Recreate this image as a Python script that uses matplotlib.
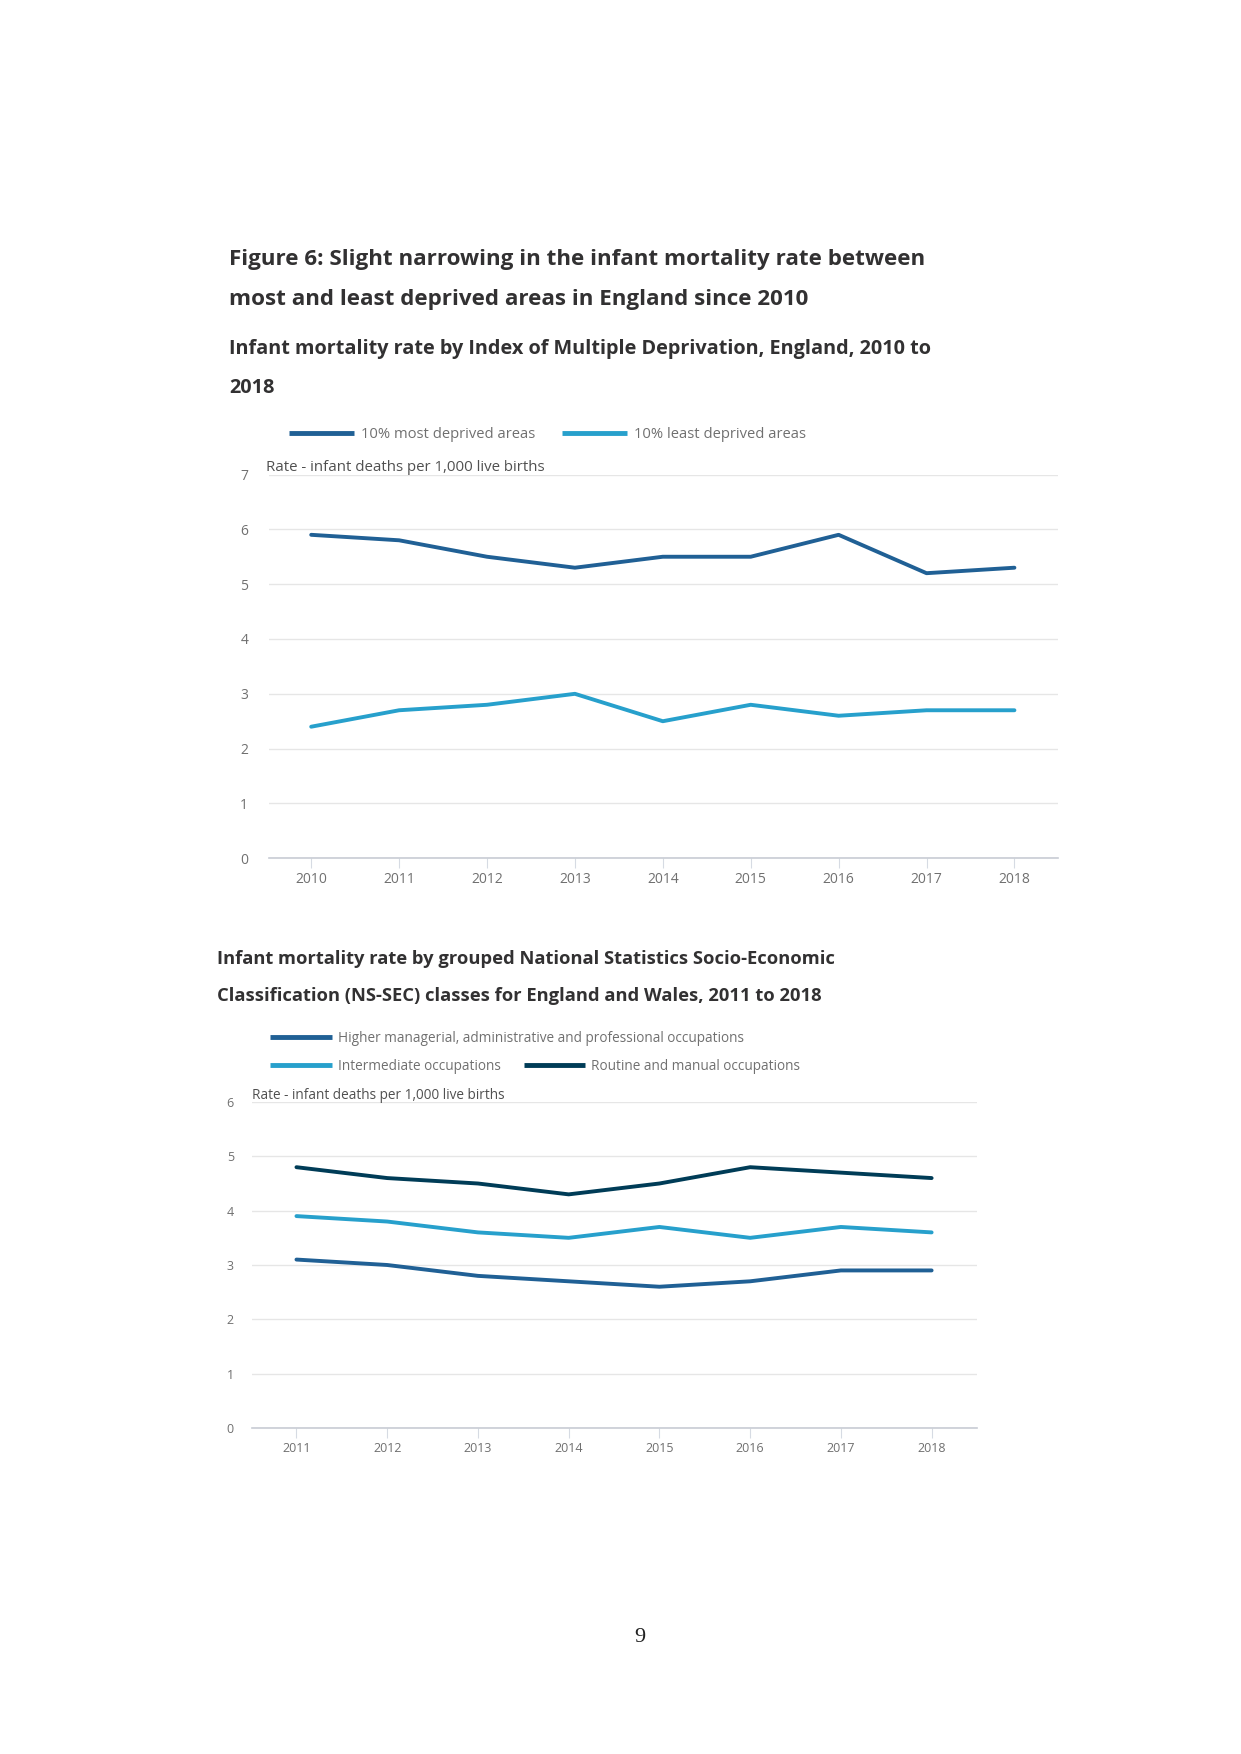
import matplotlib
matplotlib.use('Agg')
import matplotlib.pyplot as plt

W, H = 1241, 1754
mydpi = 100

# chart 1 data: IMD deciles, England
years_imd = [2010, 2011, 2012, 2013, 2014, 2015, 2016, 2017, 2018]
most_deprived = [5.9, 5.8, 5.5, 5.3, 5.5, 5.5, 5.9, 5.2, 5.3]
least_deprived = [2.4, 2.7, 2.8, 3.0, 2.5, 2.8, 2.6, 2.7, 2.7]

# chart 2 data: NS-SEC, England and Wales
years_nssec = [2011, 2012, 2013, 2014, 2015, 2016, 2017, 2018]
higher_managerial = [3.1, 3.0, 2.8, 2.7, 2.6, 2.7, 2.9, 2.9]
intermediate = [3.9, 3.8, 3.6, 3.5, 3.7, 3.5, 3.7, 3.6]
routine_manual = [4.8, 4.6, 4.5, 4.3, 4.5, 4.8, 4.7, 4.6]

DARK = '#206095'
LIGHT = '#27a0cc'
NAVY = '#003c57'
TEXT = '#323132'
GREY = '#707070'

plt.rcParams['font.family'] = ['Open Sans', 'DejaVu Sans']


def fx(px):
    return px / W


def fy(py):
    return 1 - py / H


def box(left, top, right, bottom):
    return [fx(left), fy(bottom), fx(right) - fx(left), fy(top) - fy(bottom)]


def style_axes(ax, ymax, xlim, years, fsize, ypad):
    ax.set_ylim(0, ymax)
    ax.set_xlim(*xlim)
    ax.set_yticks(range(0, ymax + 1))
    ax.set_xticks(years)
    ax.grid(axis='y', color='#e6e6e6', lw=1)
    ax.set_axisbelow(True)
    for s in ['top', 'right', 'left']:
        ax.spines[s].set_visible(False)
    ax.spines['bottom'].set_color('#c8ccd4')
    ax.spines['bottom'].set_linewidth(1.2)
    ax.tick_params(axis='y', length=0, pad=ypad, labelcolor=GREY, labelsize=fsize)
    ax.tick_params(axis='x', length=7, width=0.8, color='#d6dbe3', pad=3,
                   labelcolor=GREY, labelsize=fsize)


fig = plt.figure(figsize=(W / mydpi, H / mydpi), dpi=mydpi)

# headings
fig.text(fx(229), fy(259), 'Figure 6: Slight narrowing in the infant mortality rate between',
         fontsize=16.1, fontweight='bold', color=TEXT, va='center')
fig.text(fx(229), fy(299), 'most and least deprived areas in England since 2010',
         fontsize=16.1, fontweight='bold', color=TEXT, va='center')
fig.text(fx(229), fy(349), 'Infant mortality rate by Index of Multiple Deprivation, England, 2010 to',
         fontsize=14.3, fontweight='bold', color=TEXT, va='center')
fig.text(fx(229), fy(388), '2018',
         fontsize=14.3, fontweight='bold', color=TEXT, va='center')

# chart 1
ax1 = fig.add_axes(box(269, 474.5, 1057.5, 858.3))
l1, = ax1.plot(years_imd, most_deprived, color=DARK, lw=2.8, solid_capstyle='round')
l2, = ax1.plot(years_imd, least_deprived, color=LIGHT, lw=2.8, solid_capstyle='round')
style_axes(ax1, 7, (2009.52, 2018.49), years_imd, 10, 15)
ax1.text(-0.004, -0.002, 'Rate - infant deaths per 1,000 live births',
         transform=ax1.transAxes + matplotlib.transforms.Affine2D().translate(0, ax1.bbox.height),
         fontsize=10.8, color='#505050', va='bottom', ha='left')
leg1 = fig.legend([l1, l2], ['10% most deprived areas', '10% least deprived areas'],
                  loc='center left', bbox_to_anchor=(fx(276), fy(435)), ncol=2,
                  frameon=False, fontsize=10.6, handlelength=4.4, handletextpad=0.45,
                  columnspacing=1.85, labelcolor=GREY)
for h in leg1.legend_handles:
    h.set_linewidth(3.5)
    h.set_solid_capstyle('butt')

# chart 2 heading
fig.text(fx(217), fy(959), 'Infant mortality rate by grouped National Statistics Socio-Economic',
         fontsize=13.2, fontweight='bold', color=TEXT, va='center')
fig.text(fx(217), fy(996), 'Classification (NS-SEC) classes for England and Wales, 2011 to 2018',
         fontsize=13.2, fontweight='bold', color=TEXT, va='center')

# chart 2
ax2 = fig.add_axes(box(252, 1102, 977, 1428))
m1, = ax2.plot(years_nssec, higher_managerial, color=DARK, lw=2.8, solid_capstyle='round')
m2, = ax2.plot(years_nssec, intermediate, color=LIGHT, lw=2.8, solid_capstyle='round')
m3, = ax2.plot(years_nssec, routine_manual, color=NAVY, lw=2.8, solid_capstyle='round')
style_axes(ax2, 6, (2010.51, 2018.5), years_nssec, 9, 13)
ax2.text(0.0, 0.996, 'Rate - infant deaths per 1,000 live births', transform=ax2.transAxes,
         fontsize=9.8, color='#505050', va='bottom', ha='left')
leg2a = fig.legend([m1], ['Higher managerial, administrative and professional occupations'],
                   loc='center left', bbox_to_anchor=(fx(258), fy(1038)), frameon=False,
                   fontsize=9.8, handlelength=4.5, handletextpad=0.45, labelcolor=GREY)
leg2b = fig.legend([m2, m3], ['Intermediate occupations', 'Routine and manual occupations'],
                   loc='center left', bbox_to_anchor=(fx(258), fy(1066)), ncol=2,
                   frameon=False, fontsize=9.8, handlelength=4.5, handletextpad=0.45,
                   columnspacing=1.7, labelcolor=GREY)
for lg in (leg2a, leg2b):
    for h in lg.legend_handles:
        h.set_linewidth(3.5)
        h.set_solid_capstyle('butt')

# page number
fig.text(fx(640), fy(1637), '9', fontsize=16, family=['Liberation Serif', 'DejaVu Serif'],
         color='#222222', ha='center', va='center')

plt.savefig('out.png', dpi=mydpi, facecolor='white')
